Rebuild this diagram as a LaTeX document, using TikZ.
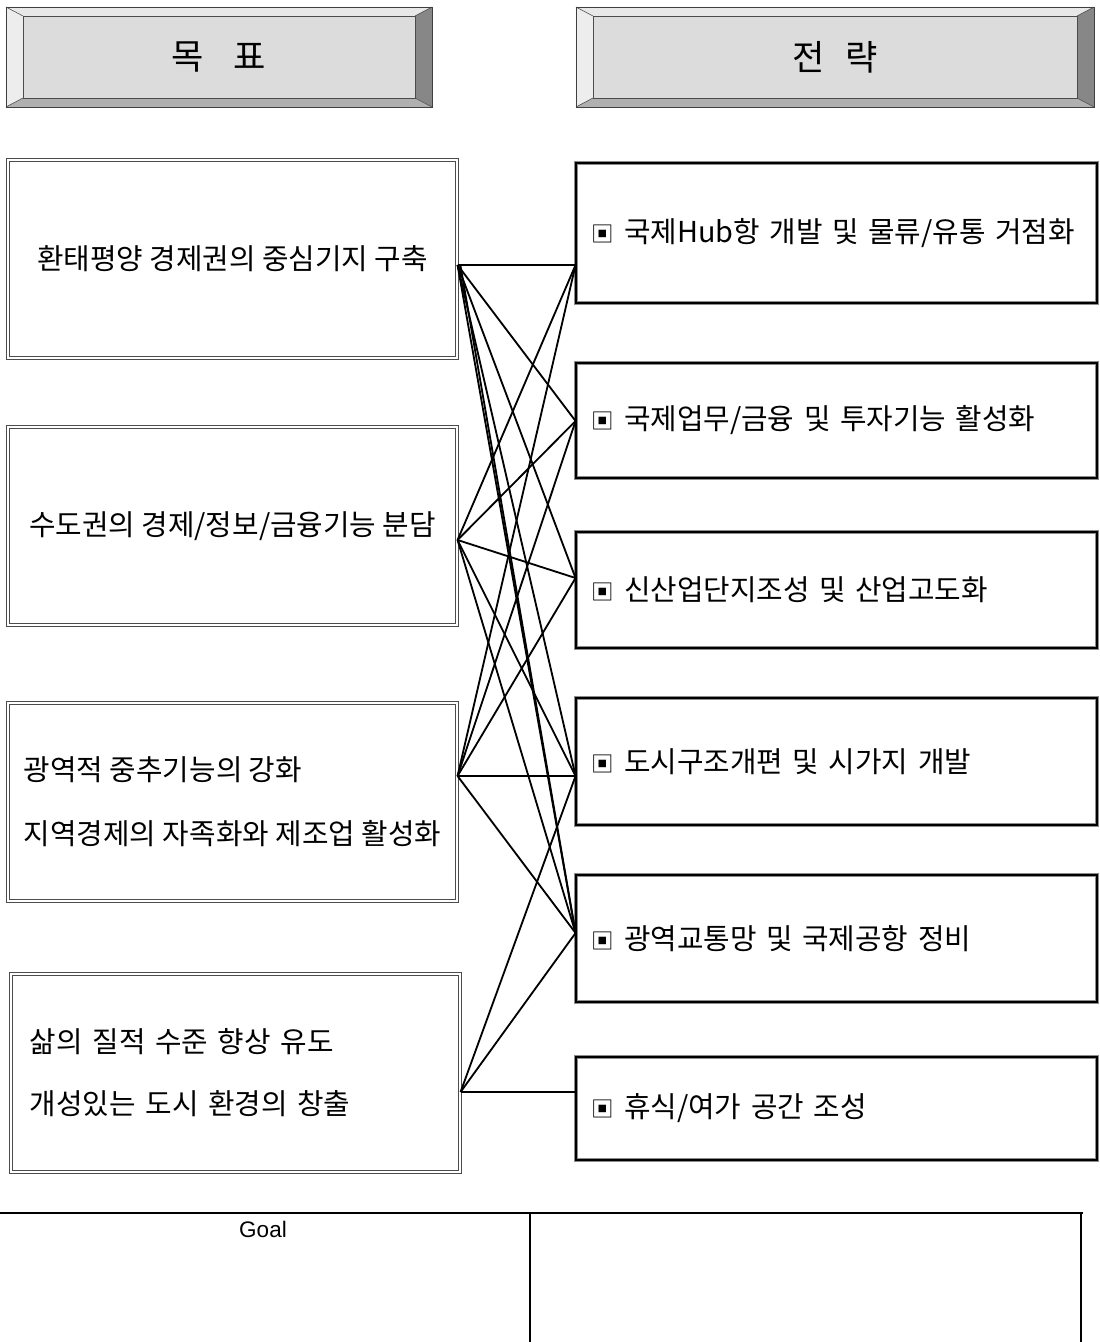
\documentclass[tikz,border=0pt]{standalone}
\usepackage{fontspec}
\setmainfont{Noto Sans CJK KR}
\newfontfamily\arialfont{Liberation Sans}
\definecolor{bevel-face}{HTML}{DCDCDC}
\definecolor{bevel-top}{HTML}{E8E8E8}
\definecolor{bevel-left}{HTML}{EDEDED}
\definecolor{bevel-right}{HTML}{878787}
\definecolor{bevel-bottom}{HTML}{B0B0B0}
\definecolor{frame-gray}{HTML}{8C8C8C}
\newcommand{\bevx}{0.425cm}
\newcommand{\bevy}{0.225cm}
\newcommand{\sqbul}{{\fontsize{16}{16}\selectfont ▣}}

\begin{document}
\begin{tikzpicture}[x=0.025cm, y=-0.025cm,
          every node/.style={font=\fontsize{20.5}{25}\selectfont},
          hdrbox/.style={minimum height=2.5cm, inner sep=0pt,
              fill=bevel-face, draw=black!75, line width=0.6pt,
              font=\fontsize{25}{30}\selectfont,
              path picture={
                \fill[bevel-top] (path picture bounding box.north west)
                  -- (path picture bounding box.north east)
                  -- ([xshift=-\bevx,yshift=-\bevy]path picture bounding box.north east)
                  -- ([xshift=\bevx,yshift=-\bevy]path picture bounding box.north west) -- cycle;
                \fill[bevel-left] (path picture bounding box.north west)
                  -- ([xshift=\bevx,yshift=-\bevy]path picture bounding box.north west)
                  -- ([xshift=\bevx,yshift=\bevy]path picture bounding box.south west)
                  -- (path picture bounding box.south west) -- cycle;
                \fill[bevel-right] (path picture bounding box.north east)
                  -- (path picture bounding box.south east)
                  -- ([xshift=-\bevx,yshift=\bevy]path picture bounding box.south east)
                  -- ([xshift=-\bevx,yshift=-\bevy]path picture bounding box.north east) -- cycle;
                \fill[bevel-bottom] (path picture bounding box.south west)
                  -- (path picture bounding box.south east)
                  -- ([xshift=-\bevx,yshift=\bevy]path picture bounding box.south east)
                  -- ([xshift=\bevx,yshift=\bevy]path picture bounding box.south west) -- cycle;
                \draw[black!70, line width=0.4pt]
                  ([xshift=\bevx,yshift=-\bevy]path picture bounding box.north west)
                  rectangle ([xshift=-\bevx,yshift=\bevy]path picture bounding box.south east);
                \draw[black!70, line width=0.4pt]
                  (path picture bounding box.north west) -- ([xshift=\bevx,yshift=-\bevy]path picture bounding box.north west)
                  (path picture bounding box.north east) -- ([xshift=-\bevx,yshift=-\bevy]path picture bounding box.north east)
                  (path picture bounding box.south west) -- ([xshift=\bevx,yshift=\bevy]path picture bounding box.south west)
                  (path picture bounding box.south east) -- ([xshift=-\bevx,yshift=\bevy]path picture bounding box.south east);
              }},
          goalbox/.style={draw=black!70, double=white, double distance=1.4pt,
              line width=0.7pt, minimum width=11.225cm, minimum height=4.95cm,
              inner sep=0pt},
          stratbox/.style={draw=frame-gray, double=black, double distance=1.3pt,
              line width=0.55pt, minimum width=13.025cm, inner sep=0pt,
              text width=12.225cm, align=left},
          link/.style={line width=1.3pt}]
        % Layout in pixel units of the 1099x1342 page, y grows downward.
        \useasboundingbox (0,0) rectangle (1099,1342);

        % headers
        \node[hdrbox, minimum width=10.65cm] (hdrGoal) at (219,57) {목\hspace{0.85em}표};
        \node[hdrbox, minimum width=12.95cm] (hdrStrat) at (835,57) {전\hspace{0.6em}략};

        % goals (left column)
        \node[goalbox] (goal1) at (232.5,259) {환태평양 경제권의 중심기지 구축};
        \node[goalbox] (goal2) at (232.5,526) {수도권의 경제/정보/금융기능 분담};
        \node[goalbox, align=left] (goal3) at (232.5,802)
              {광역적 중추기능의 강화\\[0.72cm]지역경제의 자족화와 제조업 활성화};
        \node[goalbox, text width=10.275cm, align=left] (goal4) at (235.5,1073)
              {삶의 질적 수준 향상 유도\\[0.67cm]개성있는 도시 환경의 창출};

        % strategies (right column)
        \node[stratbox, minimum height=3.5cm] (strat1) at (836.5,233)
              {\sqbul\ 국제Hub항 개발 및 물류/유통 거점화};
        \node[stratbox, minimum height=2.875cm] (strat2) at (836.5,420.5)
              {\sqbul\ 국제업무/금융 및 투자기능 활성화};
        \node[stratbox, minimum height=2.9cm] (strat3) at (836.5,590)
              {\sqbul\ 신산업단지조성 및 산업고도화};
        \node[stratbox, minimum height=3.175cm] (strat4) at (836.5,761.5)
              {\sqbul\ 도시구조개편 및 시가지 개발};
        \node[stratbox, minimum height=3.175cm] (strat5) at (836.5,938.5)
              {\sqbul\ 광역교통망 및 국제공항 정비};
        \node[stratbox, minimum height=2.575cm] (strat6) at (836.5,1108.5)
              {\sqbul\ 휴식/여가 공간 조성};

        % ports where the links meet the boxes
        \coordinate (g1) at (goal1.east |- 0,265);
        \coordinate (g2) at (goal2.east |- 0,540);
        \coordinate (g3) at (goal3.east |- 0,776);
        \coordinate (g4) at (goal4.east |- 0,1092);
        \coordinate (s1) at (strat1.west |- 0,265);
        \coordinate (s2) at (strat2.west |- 0,421);
        \coordinate (s3) at (strat3.west |- 0,578);
        \coordinate (s4) at (strat4.west |- 0,776);
        \coordinate (s5) at (strat5.west |- 0,933);
        \coordinate (s6) at (strat6.west |- 0,1092);

        % goal -> strategy links
        \draw[link] (g1) -- (s1);
        \draw[link] (g1) -- (s2);
        \draw[link] (g1) -- (s3);
        \draw[link] (g1) -- (s4);
        \draw[link] (g1) -- (s5);
        \draw[link] ([xshift=0.07cm]g1) -- (s5);
        \draw[link] (g2) -- (s1);
        \draw[link] (g2) -- (s2);
        \draw[link] (g2) -- (s3);
        \draw[link] (g2) -- (s4);
        \draw[link] (g2) -- (s5);
        \draw[link] (g3) -- (s1);
        \draw[link] (g3) -- (s2);
        \draw[link] (g3) -- (s3);
        \draw[link] (g3) -- (s4);
        \draw[link] (g3) -- (s5);
        \draw[link] (g4) -- (s4);
        \draw[link] (g4) -- (s5);
        \draw[link] (g4) -- (s6);

        % caption table at the foot
        \draw[line width=1.8pt] (0,1213) -- (1083,1213);
        \draw[line width=1pt] (530,1213) -- (530,1342);
        \draw[line width=1pt] (1081,1213) -- (1081,1342);
        \node[font=\arialfont\fontsize{16}{19}\selectfont] (goalHead) at (263,1229) {Goal};
      \end{tikzpicture}
\end{document}
